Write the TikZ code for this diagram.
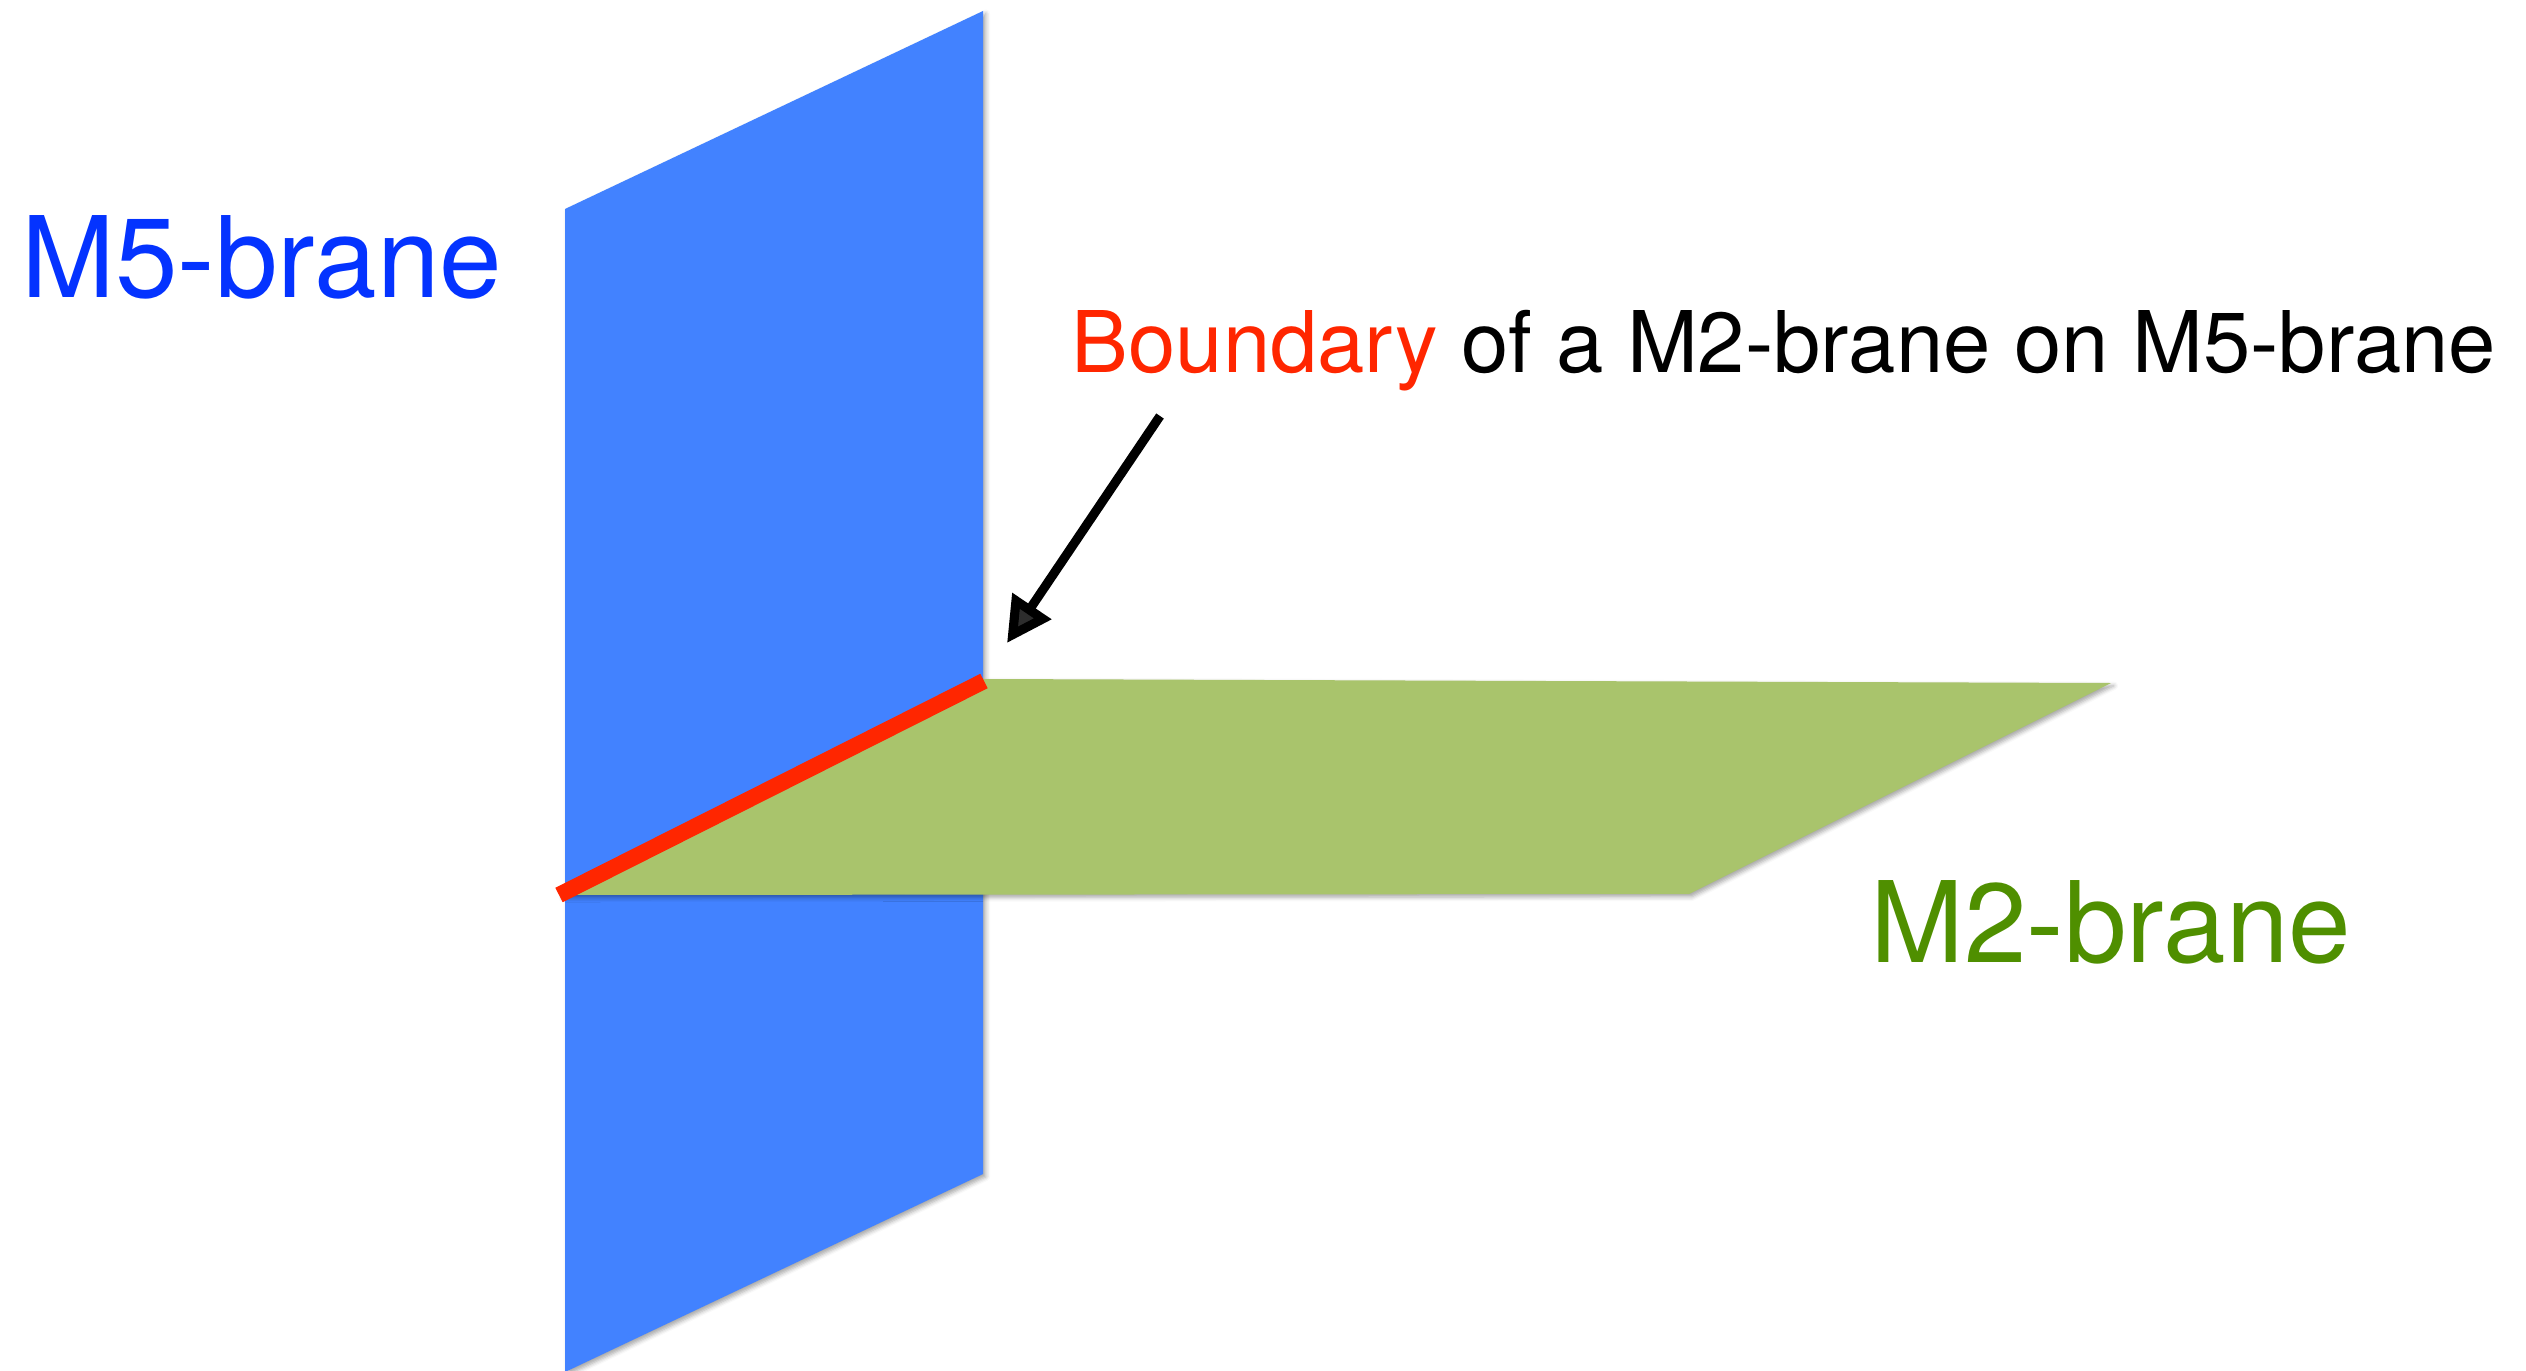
\documentclass[tikz,border=0pt]{standalone}
\usepackage{fontspec}
\setmainfont{TeX Gyre Heros}
\usetikzlibrary{arrows.meta, shadows.blur}
\definecolor{fiveblue}{RGB}{66,130,255}
\definecolor{fivetext}{RGB}{4,51,255}
\definecolor{twogreen}{RGB}{169,196,108}
\definecolor{twotext}{RGB}{79,143,0}
\definecolor{bdred}{RGB}{255,38,0}
\tikzset{plane/.style={blur shadow={shadow xshift=0.8pt, shadow yshift=-0.8pt, shadow blur radius=1.2pt, shadow opacity=35}}}
\begin{document}
\begin{tikzpicture}[>={Triangle[length=12.7pt, width=12.8pt]}]
	\useasboundingbox (0, 0) rectangle (25.26, 13.7);
	\fill[plane, fiveblue] (5.65, 11.61) -- (9.83, 13.59) -- (9.83, 1.96) -- (5.65, -0.02) -- cycle;
	\fill[plane, twogreen] (5.60, 4.75) -- (9.84, 6.91) -- (21.11, 6.87) -- (16.89, 4.76) -- cycle;
	\draw[bdred, line width=4.6pt] (5.59, 4.75) -- (9.84, 6.89);
	\node (m5) at (0.21, 10.72) [anchor=base west, inner sep=0pt, text=fivetext, font=\fontsize{32}{38}\selectfont] {M5-brane};
	\node (m2) at (18.70, 4.08) [anchor=base west, inner sep=0pt, text=twotext, font=\fontsize{32}{38}\selectfont] {M2-brane};
	\node (bd) at (10.71, 9.97) [anchor=base west, inner sep=0pt, font=\fontsize{24.2}{29}\selectfont] {\textcolor{bdred}{Boundary} of a M2-brane on M5-brane};
	\coordinate (tail) at (11.60, 9.54);
	\coordinate (tip) at (10.07, 7.27);
	\draw[->, line width=2.6pt] (tail) -- (tip);
\end{tikzpicture}
\end{document}
